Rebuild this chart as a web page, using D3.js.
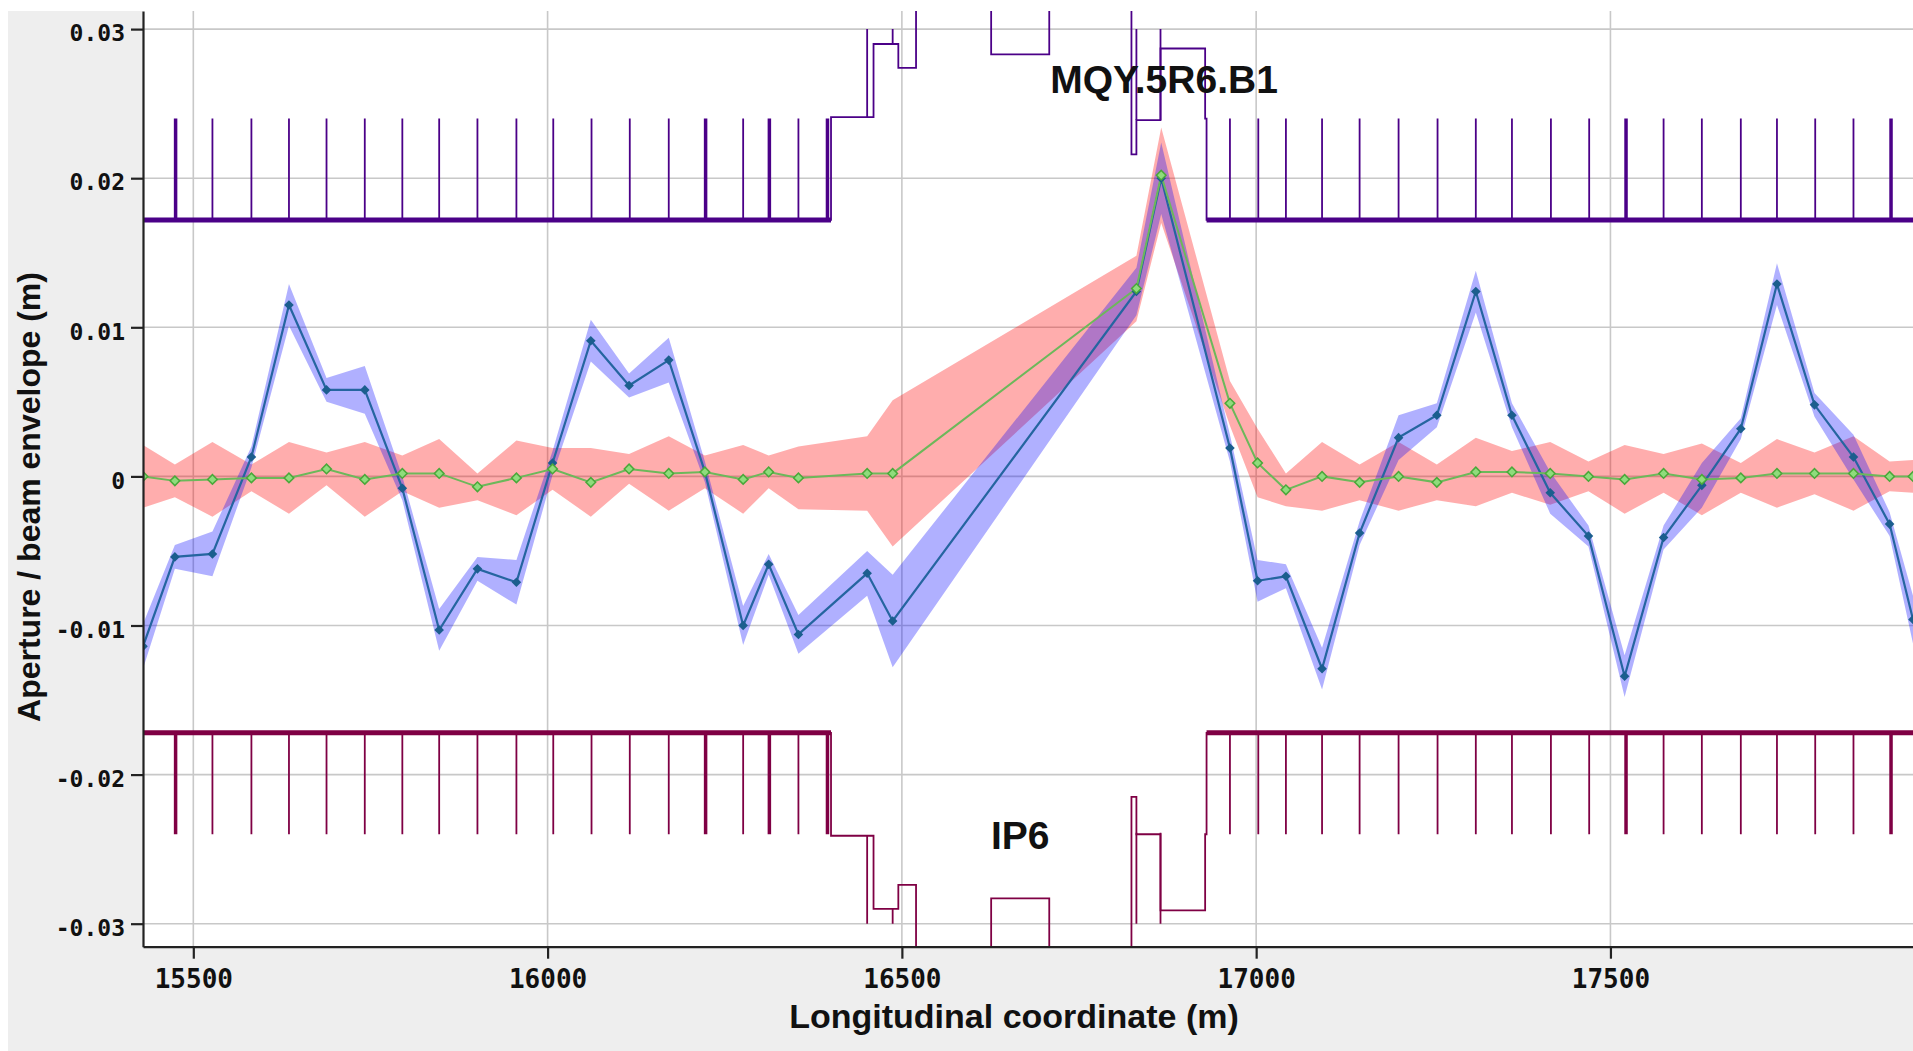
<!DOCTYPE html>
<html>
<head>
<meta charset="utf-8">
<script src="https://cdn.jsdelivr.net/npm/d3@7/dist/d3.min.js"></script>
<style>
	body { margin: 0; background: #fff; }
	svg { display: block; }
	.tick text { font-family: "DejaVu Sans Mono", monospace; font-weight: bold; fill: #111; }
	.title { font-family: "Liberation Sans", Arial, sans-serif; font-weight: bold; fill: #111; }
</style>
</head>
<body>
<script>
var width = 1913,
	height = 1051;

// optics sampled at the quadrupoles (s in m, offsets in m)
var optS = [15429, 15474, 15527, 15582, 15635, 15688, 15742, 15795, 15847, 15901,
	15956, 16007, 16061, 16115, 16171, 16222, 16276, 16312, 16354, 16451,
	16487, 16831, 16866, 16963, 17002, 17042, 17093, 17146, 17201, 17255,
	17310, 17361, 17415, 17469, 17520, 17575, 17629, 17684, 17735, 17788,
	17843, 17894, 17927];

var blueOrbit = [-0.0114, -0.0054, -0.0052, 0.0013, 0.0115, 0.0058, 0.0058, -0.0008, -0.0103, -0.0062,
	-0.0071, 0.0009, 0.0091, 0.0061, 0.0078, 0.0003, -0.0100, -0.0059, -0.0106, -0.0065,
	-0.0097, 0.0124, 0.0200, 0.0019, -0.0070, -0.0067, -0.0129, -0.0038, 0.0026, 0.0041,
	0.0124, 0.0041, -0.0011, -0.0040, -0.0134, -0.0041, -0.0006, 0.0032, 0.0129, 0.0048,
	0.0013, -0.0032, -0.0096];

var blueSigma = [0.0015, 0.0008, 0.0015, 0.0007, 0.0014, 0.0008, 0.0016, 0.0008, 0.0014, 0.0008,
	0.0015, 0.0008, 0.0014, 0.0008, 0.0015, 0.0007, 0.0013, 0.0007, 0.0013, 0.0015,
	0.0031, 0.0016, 0.0024, 0.0009, 0.0014, 0.0008, 0.0014, 0.0008, 0.0015, 0.0008,
	0.0014, 0.0008, 0.0014, 0.0007, 0.0014, 0.0008, 0.0015, 0.0007, 0.0014, 0.0008,
	0.0015, 0.0008, 0.0016];

var greenOrbit = [0.0000, -0.0003, -0.0002, -0.0001, -0.0001, 0.0005, -0.0002, 0.0002, 0.0002, -0.0007,
	-0.0001, 0.0005, -0.0004, 0.0005, 0.0002, 0.0003, -0.0002, 0.0003, -0.0001, 0.0002,
	0.0002, 0.0126, 0.0202, 0.0049, 0.0009, -0.0009, 0.0000, -0.0004, 0.0000, -0.0004,
	0.0003, 0.0003, 0.0002, 0.0000, -0.0002, 0.0002, -0.0002, -0.0001, 0.0002, 0.0002,
	0.0002, 0.0000, 0.0000];

var pinkSigma = [0.0021, 0.0011, 0.0025, 0.0009, 0.0024, 0.0011, 0.0025, 0.0012, 0.0023, 0.0009,
	0.0025, 0.0014, 0.0023, 0.0010, 0.0025, 0.0011, 0.0023, 0.0011, 0.0021, 0.0025,
	0.0049, 0.0022, 0.0032, 0.0015, 0.0023, 0.0011, 0.0023, 0.0012, 0.0023, 0.0012,
	0.0023, 0.0014, 0.0021, 0.0010, 0.0023, 0.0013, 0.0024, 0.0010, 0.0023, 0.0014,
	0.0025, 0.0010, 0.0011];

// aperture outline
var apS = [15429, 16400, 16400, 16460, 16460, 16495, 16495, 16520, 16520, 16626, 16626, 16708,
	16708, 16824, 16824, 16831, 16831, 16865, 16865, 16928, 16928, 16930, 16930, 17927];
var apUpper = [0.0172, 0.0172, 0.0241, 0.0241, 0.0290, 0.0290, 0.0274, 0.0274, 0.0330, 0.0330, 0.0283, 0.0283,
	0.0330, 0.0330, 0.0216, 0.0216, 0.0239, 0.0239, 0.0287, 0.0287, 0.0240, 0.0240, 0.0172, 0.0172];
var apLower = [-0.0172, -0.0172, -0.0241, -0.0241, -0.0290, -0.0290, -0.0274, -0.0274, -0.0330, -0.0330, -0.0283, -0.0283,
	-0.0330, -0.0330, -0.0215, -0.0215, -0.0240, -0.0240, -0.0291, -0.0291, -0.0240, -0.0240, -0.0172, -0.0172];

var noisyRanges = [[15429, 16400], [16930, 17927]];
var arcLevel = [0.0172, -0.0172];

var spikeS = [15475, 15527, 15582, 15635, 15688, 15742, 15795, 15847, 15901, 15956,
	16008, 16062, 16116, 16171, 16223, 16276, 16313, 16354, 16395,
	16963, 17003, 17042, 17093, 17146, 17201, 17256, 17310, 17361, 17416,
	17470, 17522, 17575, 17629, 17684, 17735, 17789, 17843, 17896];
var wideSpikeS = [15475, 16223, 16313, 16395, 17522, 17896];
var spikeTip = [0.0240, -0.0240];

var irSpikeS = [16451, 16487, 16831, 16865];
var irSpikeBase = [0.0241, 0.0290, 0.0239, 0.0239];
var irSpikeTip = 0.0300;

var xTicks = [15500, 16000, 16500, 17000, 17500];
var yTicks = [-0.03, -0.02, -0.01, 0, 0.01, 0.02, 0.03];
var yTickLabels = ['-0.03', '-0.02', '-0.01', '0', '0.01', '0.02', '0.03'];

var elementLabels = ['MQY.5R6.B1', 'IP6'];

var plot = {left: 143, right: 1913, top: 11, bottom: 946.7};

var x = d3.scaleLinear()
	.domain([15429, 17927])
	.range([plot.left, plot.right]);

var y = d3.scaleLinear()
	.domain([-0.031543, 0.031214])
	.range([plot.bottom, plot.top]);

var svg = d3.select('body')
	.append('svg')
	.attr('width', width)
	.attr('height', height);

svg.append('rect')
	.attr('x', 8)
	.attr('y', 11)
	.attr('width', width - 8)
	.attr('height', height - 11)
	.attr('fill', '#eeeeee');

svg.append('rect')
	.attr('x', plot.left)
	.attr('y', plot.top)
	.attr('width', plot.right - plot.left)
	.attr('height', plot.bottom - plot.top)
	.attr('fill', '#ffffff');

svg.append('clipPath')
	.attr('id', 'clip')
	.append('rect')
	.attr('x', plot.left)
	.attr('y', plot.top)
	.attr('width', plot.right - plot.left)
	.attr('height', plot.bottom - plot.top);

var g = svg.append('g').attr('clip-path', 'url(#clip)');

// grid
g.selectAll('.vgrid')
	.data(xTicks)
	.enter()
	.append('line')
	.attr('x1', function(d) { return x(d); })
	.attr('x2', function(d) { return x(d); })
	.attr('y1', plot.top)
	.attr('y2', plot.bottom)
	.attr('stroke', '#c8c8c8')
	.attr('stroke-width', 1.6);

g.selectAll('.hgrid')
	.data(yTicks)
	.enter()
	.append('line')
	.attr('x1', plot.left)
	.attr('x2', plot.right)
	.attr('y1', function(d) { return y(d); })
	.attr('y2', function(d) { return y(d); })
	.attr('stroke', '#c8c8c8')
	.attr('stroke-width', 1.6);

// apertures
var apColors = ['#4b0088', '#7f0044'];
var apSeries = [apUpper, apLower];

apSeries.forEach(function(vals, k) {
	var pts = apS.map(function(s, i) { return [s, vals[i]]; });
	g.append('path')
		.datum(pts)
		.attr('d', d3.line().x(function(d) { return x(d[0]); }).y(function(d) { return y(d[1]); }))
		.attr('fill', 'none')
		.attr('stroke', apColors[k])
		.attr('stroke-width', 1.8);

	g.selectAll('.noise' + k)
		.data(noisyRanges)
		.enter()
		.append('line')
		.attr('x1', function(d) { return x(d[0]); })
		.attr('x2', function(d) { return x(d[1]); })
		.attr('y1', y(arcLevel[k]))
		.attr('y2', y(arcLevel[k]))
		.attr('stroke', apColors[k])
		.attr('stroke-width', 5);

	g.selectAll('.spike' + k)
		.data(spikeS)
		.enter()
		.append('line')
		.attr('x1', function(d) { return x(d); })
		.attr('x2', function(d) { return x(d); })
		.attr('y1', y(arcLevel[k]))
		.attr('y2', y(spikeTip[k]))
		.attr('stroke', apColors[k])
		.attr('stroke-width', function(d) { return wideSpikeS.indexOf(d) >= 0 ? 3.5 : 1.8; });

	var sign = k === 0 ? 1 : -1;
	g.selectAll('.irspike' + k)
		.data(irSpikeS)
		.enter()
		.append('line')
		.attr('x1', function(d) { return x(d); })
		.attr('x2', function(d) { return x(d); })
		.attr('y1', function(d, i) { return y(sign * irSpikeBase[i]); })
		.attr('y2', y(sign * irSpikeTip))
		.attr('stroke', apColors[k])
		.attr('stroke-width', 1.8);
});

// beam envelopes
var pts = optS.map(function(s, i) {
	return {s: s, b: blueOrbit[i], bs: blueSigma[i], gr: greenOrbit[i], ps: pinkSigma[i]};
});

g.append('path')
	.datum(pts)
	.attr('d', d3.area()
		.x(function(d) { return x(d.s); })
		.y0(function(d) { return y(d.gr - d.ps); })
		.y1(function(d) { return y(d.gr + d.ps); }))
	.attr('fill', '#ff0000')
	.attr('fill-opacity', 0.32);

g.append('path')
	.datum(pts)
	.attr('d', d3.area()
		.x(function(d) { return x(d.s); })
		.y0(function(d) { return y(d.b - d.bs); })
		.y1(function(d) { return y(d.b + d.bs); }))
	.attr('fill', '#0000ff')
	.attr('fill-opacity', 0.31);

g.append('path')
	.datum(pts)
	.attr('d', d3.line().x(function(d) { return x(d.s); }).y(function(d) { return y(d.b); }))
	.attr('fill', 'none')
	.attr('stroke', '#2565a0')
	.attr('stroke-width', 2.2);

g.append('path')
	.datum(pts)
	.attr('d', d3.line().x(function(d) { return x(d.s); }).y(function(d) { return y(d.gr); }))
	.attr('fill', 'none')
	.attr('stroke', '#6cb85a')
	.attr('stroke-width', 2);

var diamond = d3.symbol().type(d3.symbolSquare).size(46);

g.selectAll('.bmark')
	.data(pts)
	.enter()
	.append('path')
	.attr('d', diamond)
	.attr('transform', function(d) { return 'translate(' + x(d.s) + ',' + y(d.b) + ') rotate(45)'; })
	.attr('fill', '#1b5e8e');

g.selectAll('.gmark')
	.data(pts)
	.enter()
	.append('path')
	.attr('d', diamond)
	.attr('transform', function(d) { return 'translate(' + x(d.s) + ',' + y(d.gr) + ') rotate(45)'; })
	.attr('fill', '#8fdc7c')
	.attr('stroke', '#4aa83a')
	.attr('stroke-width', 1.5);

// element labels
svg.append('text')
	.attr('class', 'title')
	.attr('x', x(16870))
	.attr('y', 93)
	.attr('text-anchor', 'middle')
	.attr('font-size', 39)
	.text(elementLabels[0]);

svg.append('text')
	.attr('class', 'title')
	.attr('x', x(16667))
	.attr('y', 849)
	.attr('text-anchor', 'middle')
	.attr('font-size', 39)
	.text(elementLabels[1]);

// axes
var xAxis = svg.append('g')
	.attr('transform', 'translate(0,' + plot.bottom + ')')
	.call(d3.axisBottom(x)
		.tickValues(xTicks)
		.tickFormat(d3.format('d'))
		.tickSize(12)
		.tickPadding(11)
		.tickSizeOuter(0));

var yAxis = svg.append('g')
	.attr('transform', 'translate(' + plot.left + ',0)')
	.call(d3.axisLeft(y)
		.tickValues(yTicks)
		.tickFormat(function(d, i) { return yTickLabels[i]; })
		.tickSize(12)
		.tickPadding(6)
		.tickSizeOuter(0));

xAxis.selectAll('text').attr('font-size', 26);
yAxis.selectAll('text').attr('font-size', 23).attr('dy', '0.51em');

[xAxis, yAxis].forEach(function(a) {
	a.select('.domain').attr('stroke', '#222').attr('stroke-width', 2.2);
	a.selectAll('.tick line').attr('stroke', '#222').attr('stroke-width', 2.2);
});

svg.append('text')
	.attr('class', 'title')
	.attr('x', 1014)
	.attr('y', 1028)
	.attr('text-anchor', 'middle')
	.attr('font-size', 34)
	.text('Longitudinal coordinate (m)');

svg.append('text')
	.attr('class', 'title')
	.attr('transform', 'translate(40,497) rotate(-90)')
	.attr('text-anchor', 'middle')
	.attr('font-size', 32)
	.text('Aperture / beam envelope (m)');
</script>
</body>
</html>
